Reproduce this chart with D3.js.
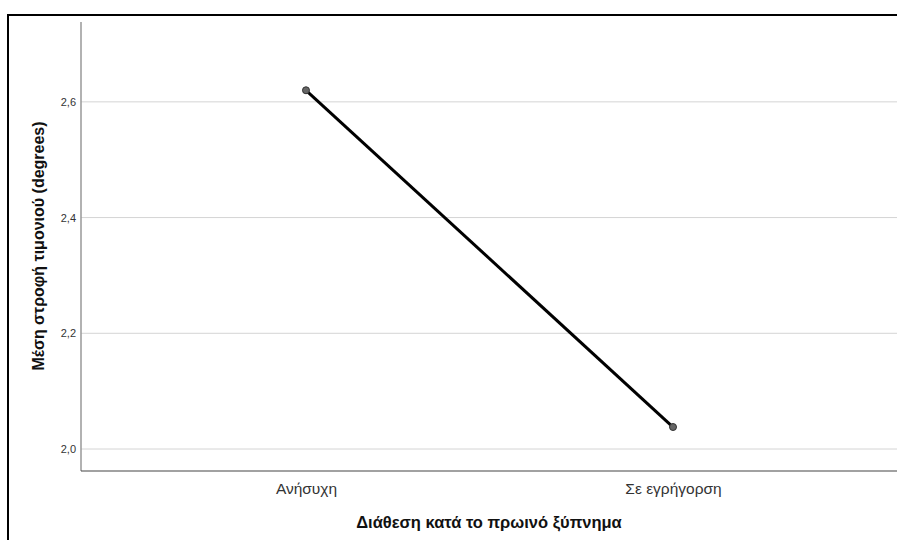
<!DOCTYPE html>
<html>
<head>
<meta charset="utf-8">
<script src="https://cdn.jsdelivr.net/npm/d3@7"></script>
<style>
  html, body { margin: 0; padding: 0; background: #fff; overflow: hidden; }
  svg { display: block; font-family: "Liberation Sans", Arial, sans-serif; }
</style>
</head>
<body>
<svg id="chart" width="897" height="540"></svg>
<script>
// Mean steering rotation by morning mood
const categories = ["Ανήσυχη", "Σε εγρήγορση"];
const meanValues = [2.62, 2.038];
const yTicks = [2.0, 2.2, 2.4, 2.6];
const xTitle = "Διάθεση κατά το πρωινό ξύπνημα";
const yTitle = "Μέση στροφή τιμονιού (degrees)";

const svg = d3.select("#chart");
const plotLeft = 81, plotRight = 898, plotTop = 22, plotBottom = 471;

// Outer frame
svg.append("rect")
  .attr("x", 8).attr("y", 15)
  .attr("width", 1000).attr("height", 1000)
  .attr("fill", "none").attr("stroke", "#000").attr("stroke-width", 2);

const x = d3.scalePoint().domain(categories).range([plotLeft, plotRight]).padding(0.613);
const y = d3.scaleLinear().domain([1.962, 2.738]).range([plotBottom, plotTop]);

// Horizontal gridlines
svg.append("g").selectAll("line").data(yTicks).join("line")
  .attr("x1", plotLeft).attr("x2", plotRight)
  .attr("y1", d => y(d)).attr("y2", d => y(d))
  .attr("stroke", "#d4d4d4").attr("stroke-width", 1);

// Y axis
const yAxis = svg.append("g").attr("transform", `translate(${plotLeft},0)`)
  .call(d3.axisLeft(y).tickValues(yTicks).tickSize(0).tickPadding(5)
    .tickFormat(d => d3.format(".1f")(d).replace(".", ",")));
yAxis.select(".domain").remove();
yAxis.selectAll("text").attr("font-size", 11).attr("fill", "#333")
  .attr("font-family", "Liberation Sans, Arial, sans-serif");
svg.append("line").attr("x1", plotLeft).attr("x2", plotLeft).attr("y1", plotTop).attr("y2", plotBottom)
  .attr("stroke", "#999").attr("stroke-width", 1.5);

// X axis
const xAxis = svg.append("g").attr("transform", `translate(0,${plotBottom})`)
  .call(d3.axisBottom(x).tickSize(0));
xAxis.select(".domain").remove();
xAxis.selectAll("text").attr("font-size", 15.5).attr("fill", "#333")
  .attr("y", 23).attr("dy", null)
  .attr("font-family", "Liberation Sans, Arial, sans-serif");
svg.append("line").attr("x1", plotLeft).attr("x2", plotRight).attr("y1", plotBottom).attr("y2", plotBottom)
  .attr("stroke", "#444").attr("stroke-width", 1.2);

// Axis titles
svg.append("text").attr("x", 489).attr("y", 528).attr("text-anchor", "middle")
  .attr("font-size", 16.5).attr("font-weight", "bold").attr("fill", "#111").text(xTitle);
svg.append("text").attr("transform", `translate(44,246) rotate(-90)`)
  .attr("text-anchor", "middle")
  .attr("font-size", 16).attr("font-weight", "bold").attr("fill", "#111").text(yTitle);

// Line and markers
const pts = categories.map((c, i) => [x(c), y(meanValues[i])]);
svg.append("path").attr("d", d3.line()(pts))
  .attr("fill", "none").attr("stroke", "#000").attr("stroke-width", 3);
svg.append("g").selectAll("circle").data(pts).join("circle")
  .attr("cx", d => d[0]).attr("cy", d => d[1]).attr("r", 3.5)
  .attr("fill", "#666").attr("stroke", "#333").attr("stroke-width", 1);
</script>
</body>
</html>
